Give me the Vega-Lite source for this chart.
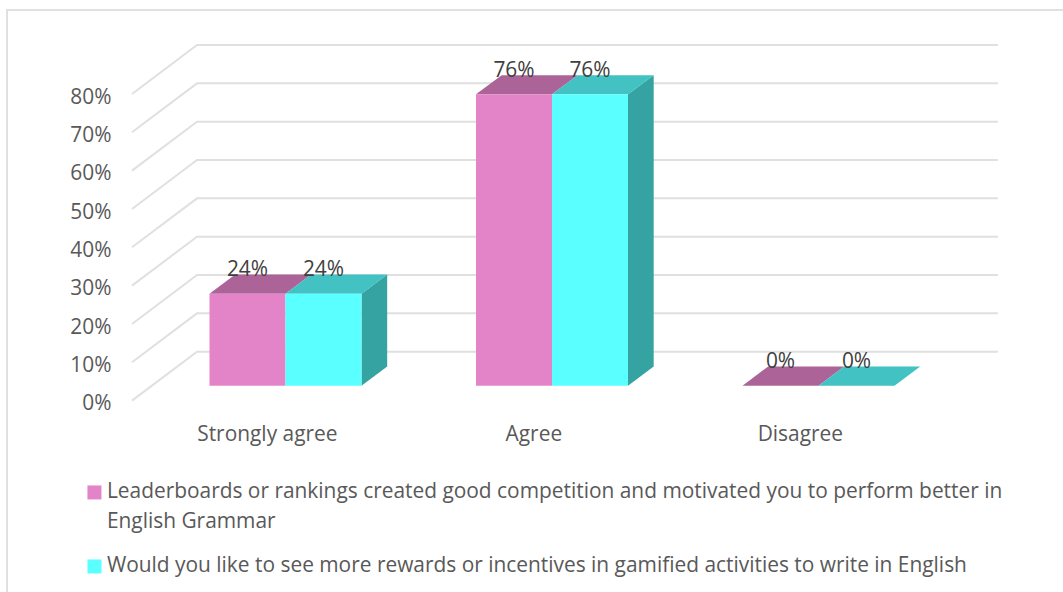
{
  "$schema": "https://vega.github.io/schema/vega-lite/v6.json",
  "width": 1066,
  "height": 598,
  "autosize": {"type": "none"},
  "padding": {"left": 7, "top": 10, "right": 0, "bottom": 0},
  "background": "white",
  "view": {"stroke": "#e0e0e0", "strokeWidth": 2, "fill": "white"},
  "config": {"font": "Open Sans"},
  "datasets": {
    "bars": [
      {"category": "Strongly agree", "series": "A", "value": 0.24, "floor": 0, "start": 0.7148, "end": 1.0, "center": 0.8574},
      {"category": "Strongly agree", "series": "B", "value": 0.24, "floor": 0, "start": 1.0, "end": 1.2852, "center": 1.1426},
      {"category": "Agree", "series": "A", "value": 0.76, "floor": 0, "start": 1.7148, "end": 2.0, "center": 1.8574},
      {"category": "Agree", "series": "B", "value": 0.76, "floor": 0, "start": 2.0, "end": 2.2852, "center": 2.1426},
      {"category": "Disagree", "series": "A", "value": 0, "floor": 0, "start": 2.7148, "end": 3.0, "center": 2.8574},
      {"category": "Disagree", "series": "B", "value": 0, "floor": 0, "start": 3.0, "end": 3.2852, "center": 3.1426}
    ],
    "tops": [
      {"bar": "SA-A", "series": "A", "u": 0.7148, "low": 0.24, "high": 0.24},
      {"bar": "SA-A", "series": "A", "u": 0.8112, "low": 0.24, "high": 0.29},
      {"bar": "SA-A", "series": "A", "u": 1.0, "low": 0.24, "high": 0.29},
      {"bar": "SA-A", "series": "A", "u": 1.0964, "low": 0.29, "high": 0.29},
      {"bar": "SA-B", "series": "B", "u": 1.0, "low": 0.24, "high": 0.24},
      {"bar": "SA-B", "series": "B", "u": 1.0964, "low": 0.24, "high": 0.29},
      {"bar": "SA-B", "series": "B", "u": 1.2852, "low": 0.24, "high": 0.29},
      {"bar": "SA-B", "series": "B", "u": 1.3816, "low": 0.29, "high": 0.29},
      {"bar": "AG-A", "series": "A", "u": 1.7148, "low": 0.76, "high": 0.76},
      {"bar": "AG-A", "series": "A", "u": 1.8112, "low": 0.76, "high": 0.81},
      {"bar": "AG-A", "series": "A", "u": 2.0, "low": 0.76, "high": 0.81},
      {"bar": "AG-A", "series": "A", "u": 2.0964, "low": 0.81, "high": 0.81},
      {"bar": "AG-B", "series": "B", "u": 2.0, "low": 0.76, "high": 0.76},
      {"bar": "AG-B", "series": "B", "u": 2.0964, "low": 0.76, "high": 0.81},
      {"bar": "AG-B", "series": "B", "u": 2.2852, "low": 0.76, "high": 0.81},
      {"bar": "AG-B", "series": "B", "u": 2.3816, "low": 0.81, "high": 0.81},
      {"bar": "DI-A", "series": "A", "u": 2.7148, "low": 0, "high": 0},
      {"bar": "DI-A", "series": "A", "u": 2.8112, "low": 0, "high": 0.05},
      {"bar": "DI-A", "series": "A", "u": 3.0, "low": 0, "high": 0.05},
      {"bar": "DI-A", "series": "A", "u": 3.0964, "low": 0.05, "high": 0.05},
      {"bar": "DI-B", "series": "B", "u": 3.0, "low": 0, "high": 0},
      {"bar": "DI-B", "series": "B", "u": 3.0964, "low": 0, "high": 0.05},
      {"bar": "DI-B", "series": "B", "u": 3.2852, "low": 0, "high": 0.05},
      {"bar": "DI-B", "series": "B", "u": 3.3816, "low": 0.05, "high": 0.05}
    ],
    "sides": [
      {"bar": "SA-B", "u": 1.2852, "low": 0, "high": 0.24},
      {"bar": "SA-B", "u": 1.3816, "low": 0.05, "high": 0.29},
      {"bar": "AG-B", "u": 2.2852, "low": 0, "high": 0.76},
      {"bar": "AG-B", "u": 2.3816, "low": 0.05, "high": 0.81}
    ],
    "walls": [
      {"level": 0.0, "u": 0.424, "y": -0.039}, {"level": 0.0, "u": 0.668, "y": 0.0886}, {"level": 0.0, "u": 3.673, "y": 0.0886},
      {"level": 0.1, "u": 0.424, "y": 0.061}, {"level": 0.1, "u": 0.668, "y": 0.1886}, {"level": 0.1, "u": 3.673, "y": 0.1886},
      {"level": 0.2, "u": 0.424, "y": 0.161}, {"level": 0.2, "u": 0.668, "y": 0.2886}, {"level": 0.2, "u": 3.673, "y": 0.2886},
      {"level": 0.3, "u": 0.424, "y": 0.261}, {"level": 0.3, "u": 0.668, "y": 0.3886}, {"level": 0.3, "u": 3.673, "y": 0.3886},
      {"level": 0.4, "u": 0.424, "y": 0.361}, {"level": 0.4, "u": 0.668, "y": 0.4886}, {"level": 0.4, "u": 3.673, "y": 0.4886},
      {"level": 0.5, "u": 0.424, "y": 0.461}, {"level": 0.5, "u": 0.668, "y": 0.5886}, {"level": 0.5, "u": 3.673, "y": 0.5886},
      {"level": 0.6, "u": 0.424, "y": 0.561}, {"level": 0.6, "u": 0.668, "y": 0.6886}, {"level": 0.6, "u": 3.673, "y": 0.6886},
      {"level": 0.7, "u": 0.424, "y": 0.661}, {"level": 0.7, "u": 0.668, "y": 0.7886}, {"level": 0.7, "u": 3.673, "y": 0.7886},
      {"level": 0.8, "u": 0.424, "y": 0.761}, {"level": 0.8, "u": 0.668, "y": 0.8886}, {"level": 0.8, "u": 3.673, "y": 0.8886}
    ],
    "legendEntries": [
      {"series": "Leaderboards or rankings created good competition and motivated you to perform better in English Grammar", "at": 0.7148, "value": 0},
      {"series": "Would you like to see more rewards or incentives in gamified activities to write in English", "at": 0.7148, "value": 0}
    ]
  },
  "layer": [
    {
      "data": {"name": "walls"},
      "mark": {"type": "line", "stroke": "#e0e0e0", "strokeWidth": 2, "interpolate": "linear"},
      "encoding": {
        "x": {
          "field": "u", "type": "quantitative",
          "scale": {"domain": [-0.045, 3.955], "nice": false, "zero": false},
          "axis": {
            "values": [0.93, 1.93, 2.93],
            "labelExpr": "datum.value < 1.5 ? 'Strongly agree' : datum.value < 2.5 ? 'Agree' : 'Disagree'",
            "title": null, "grid": false, "domain": false, "ticks": false,
            "labelFont": "Open Sans", "labelFontSize": 20.9, "labelColor": "#595959",
            "labelBaseline": "middle", "labelPadding": 0, "offset": -174, "labelFlush": false, "labelOverlap": false
          }
        },
        "y": {
          "field": "y", "type": "quantitative",
          "scale": {"domain": [-0.58, 0.98], "nice": false, "zero": false},
          "axis": {
            "values": [0, 0.1, 0.2, 0.3, 0.4, 0.5, 0.6, 0.7, 0.8],
            "format": ".0%",
            "title": null, "grid": false, "domain": false, "ticks": false,
            "labelFont": "Open Sans", "labelFontSize": 20.9, "labelColor": "#595959",
            "labelPadding": 0, "offset": -104, "labelOffset": 18, "labelFlush": false, "labelOverlap": false
          }
        },
        "detail": {"field": "level", "type": "nominal"}
      }
    },
    {
      "data": {"name": "sides"},
      "mark": {"type": "area", "color": "#36a3a3", "orient": "vertical"},
      "encoding": {
        "x": {"field": "u", "type": "quantitative"},
        "y": {"field": "low", "type": "quantitative", "stack": null},
        "y2": {"field": "high"},
        "detail": {"field": "bar", "type": "nominal"}
      }
    },
    {
      "data": {"name": "tops"},
      "mark": {"type": "area", "orient": "vertical"},
      "encoding": {
        "x": {"field": "u", "type": "quantitative"},
        "y": {"field": "low", "type": "quantitative", "stack": null},
        "y2": {"field": "high"},
        "detail": {"field": "bar", "type": "nominal"},
        "color": {
          "field": "series", "type": "nominal", "legend": null,
          "scale": {"domain": ["A", "B"], "range": ["#ac6498", "#42c2c2"]}
        }
      }
    },
    {
      "data": {"name": "bars"},
      "mark": {"type": "rect"},
      "encoding": {
        "x": {"field": "start", "type": "quantitative"},
        "x2": {"field": "end"},
        "y": {"field": "value", "type": "quantitative"},
        "y2": {"field": "floor"},
        "color": {
          "field": "series", "type": "nominal", "legend": null,
          "scale": {"domain": ["A", "B"], "range": ["#e384c8", "#5affff"]}
        }
      }
    },
    {
      "data": {"name": "bars"},
      "mark": {"type": "text", "font": "Open Sans", "fontSize": 20.9, "color": "#404040", "dy": -23.5, "align": "center", "baseline": "middle"},
      "encoding": {
        "x": {"field": "center", "type": "quantitative"},
        "y": {"field": "value", "type": "quantitative"},
        "text": {"field": "value", "type": "quantitative", "format": ".0%"}
      }
    },
    {
      "data": {"name": "legendEntries"},
      "mark": {"type": "rect"},
      "encoding": {
        "x": {"field": "at", "type": "quantitative"},
        "x2": {"field": "at"},
        "y": {"field": "value", "type": "quantitative"},
        "y2": {"field": "value"},
        "color": {
          "field": "series", "type": "nominal",
          "scale": {"range": ["#e384c8", "#5affff"]},
          "legend": {
            "orient": "none", "legendX": 77, "legendY": 472, "title": null, "padding": 0,
            "symbolType": "square", "symbolSize": 196, "symbolStrokeWidth": 0,
            "labelFont": "Open Sans", "labelFontSize": 20.9, "labelColor": "#595959",
            "labelLimit": 1000, "labelOffset": 2, "rowPadding": 22,
            "labelExpr": "split(replace(datum.label, 'better in English', 'better in|English'), '|')",
            "encode": {"labels": {"update": {"lineHeight": {"value": 30}}}}
          }
        }
      }
    }
  ],
  "resolve": {"scale": {"color": "independent"}}
}
